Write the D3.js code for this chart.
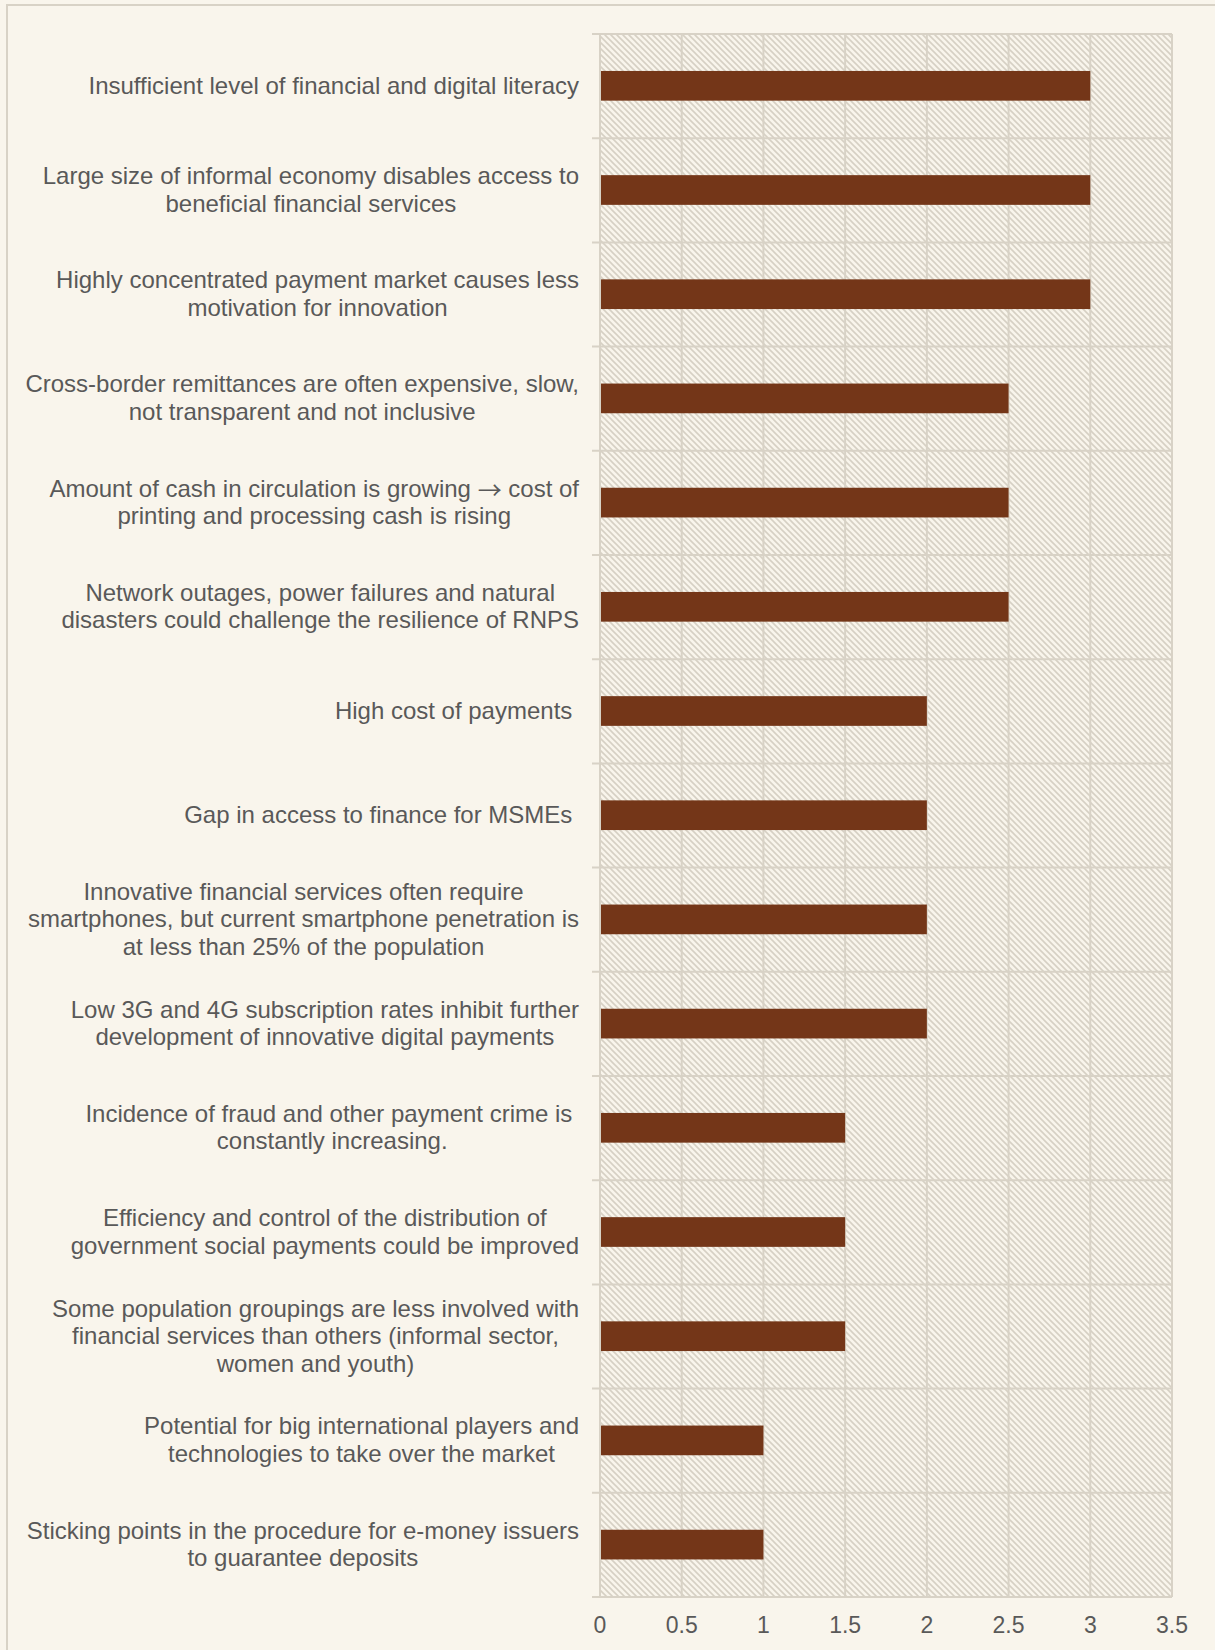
<!DOCTYPE html>
<html>
<head>
<meta charset="utf-8">
<script src="https://cdn.jsdelivr.net/npm/d3@7/dist/d3.min.js"></script>
<style>
  html, body { margin: 0; padding: 0; background: #f9f5ec; }
  svg { display: block; }
</style>
</head>
<body>
<svg id="chart" width="1215" height="1650"></svg>
<script>
const categories = [
  "Insufficient level of financial and digital literacy",
  "Large size of informal economy disables access to\nbeneficial financial services",
  "Highly concentrated payment market causes less\nmotivation for innovation",
  "Cross-border remittances are often expensive, slow,\nnot transparent and not inclusive",
  "Amount of cash in circulation is growing \u2192 cost of\nprinting and processing cash is rising",
  "Network outages, power failures and natural\ndisasters could challenge the resilience of RNPS",
  "High cost of payments ",
  "Gap in access to finance for MSMEs ",
  "Innovative financial services often require\nsmartphones, but current smartphone penetration is\nat less than 25% of the population",
  "Low 3G and 4G subscription rates inhibit further\ndevelopment of innovative digital payments",
  "Incidence of fraud and other payment crime is \nconstantly increasing.",
  "Efficiency and control of the distribution of\ngovernment social payments could be improved",
  "Some population groupings are less involved with\nfinancial services than others (informal sector,\nwomen and youth)",
  "Potential for big international players and\ntechnologies to take over the market",
  "Sticking points in the procedure for e-money issuers\nto guarantee deposits"
];
const values = [3, 3, 3, 2.5, 2.5, 2.5, 2, 2, 2, 2, 1.5, 1.5, 1.5, 1, 1];
const xTicks = [0, 0.5, 1, 1.5, 2, 2.5, 3, 3.5];
const xTickLabels = ["0", "0.5", "1", "1.5", "2", "2.5", "3", "3.5"];

const svg = d3.select("#chart");
const W = 1215, H = 1650;
const plot = { left: 600, right: 1172, top: 34, bottom: 1597 };
const gridColor = "#d8d2c6";
const textColor = "#595959";
const barColor = "#743618";
const fontFamily = "'Liberation Sans', Arial, sans-serif";
const arrowFont = "'Noto Sans CJK SC', 'DejaVu Sans', sans-serif";

svg.append("rect").attr("width", W).attr("height", H).attr("fill", "#f9f5ec");
// outer chart border
svg.append("rect").attr("x", 7).attr("y", 5).attr("width", 1400).attr("height", 1800)
  .attr("fill", "none").attr("stroke", gridColor).attr("stroke-width", 2);

// hatch pattern
const defs = svg.append("defs");
const pat = defs.append("pattern").attr("id", "hatch").attr("patternUnits", "userSpaceOnUse")
  .attr("width", 6).attr("height", 6);
pat.append("rect").attr("width", 6).attr("height", 6).attr("fill", "#f9f5ec");
pat.append("path").attr("d", "M0,0 L6,6 M-3,3 L3,9 M3,-3 L9,3")
  .attr("stroke", "#d6d0c4").attr("stroke-width", 1.6);

const x = d3.scaleLinear().domain([0, 3.5]).range([plot.left, plot.right]);
const y = d3.scaleBand().domain(d3.range(categories.length)).range([plot.top, plot.bottom]).paddingInner(0).paddingOuter(0);

svg.append("rect").attr("x", plot.left).attr("y", plot.top)
  .attr("width", plot.right - plot.left).attr("height", plot.bottom - plot.top)
  .attr("fill", "url(#hatch)");

// vertical gridlines
svg.append("g").selectAll("line").data(xTicks).join("line")
  .attr("x1", d => x(d)).attr("x2", d => x(d))
  .attr("y1", plot.top).attr("y2", plot.bottom)
  .attr("stroke", gridColor).attr("stroke-width", 2);

// horizontal category boundaries (with tick marks extending left)
const bounds = d3.range(categories.length + 1).map(i => plot.top + i * y.step());
svg.append("g").selectAll("line").data(bounds).join("line")
  .attr("x1", plot.left - 8).attr("x2", plot.right)
  .attr("y1", d => d).attr("y2", d => d)
  .attr("stroke", gridColor).attr("stroke-width", 2);

// bars
const barH = y.bandwidth() * 0.285;
svg.append("g").selectAll("rect").data(values).join("rect")
  .attr("x", x(0) + 1)
  .attr("y", (d, i) => y(i) + y.bandwidth() / 2 - barH / 2 - 0.3)
  .attr("width", d => x(d) - x(0) - 1)
  .attr("height", barH)
  .attr("fill", barColor);

// x tick labels
svg.append("g").selectAll("text").data(xTicks).join("text")
  .attr("x", d => x(d)).attr("y", 1625)
  .attr("text-anchor", "middle").attr("dominant-baseline", "central")
  .attr("font-family", fontFamily).attr("font-size", 23).attr("fill", textColor)
  .text((d, i) => xTickLabels[i]);

// category labels
const canvas = document.createElement("canvas");
const ctx = canvas.getContext("2d");
const mainFont = "24px 'Liberation Sans', Arial, sans-serif";
const arrFont = "24px 'Noto Sans CJK SC', 'DejaVu Sans', sans-serif";
function segs(line) {
  const parts = line.split("\u2192");
  const out = [];
  parts.forEach((p, k) => {
    if (k > 0) out.push({ t: "\u2192", arrow: true });
    if (p.length) out.push({ t: p, arrow: false });
  });
  return out;
}
function measure(line) {
  return d3.sum(segs(line), s => { ctx.font = s.arrow ? arrFont : mainFont; return ctx.measureText(s.t).width; });
}
const labelRight = 579;
const lh = 27.5;
categories.forEach((c, i) => {
  const lines = c.split("\n");
  const widths = lines.map(l => measure(l));
  const maxW = d3.max(widths);
  const cx = labelRight - maxW / 2;
  const cy = y(i) + y.bandwidth() / 2 - 1.5;
  lines.forEach((l, j) => {
    const t = svg.append("text")
      .attr("x", cx - widths[j] / 2)
      .attr("y", cy + (j - (lines.length - 1) / 2) * lh)
      .attr("dominant-baseline", "central")
      .attr("font-family", fontFamily).attr("font-size", 24).attr("fill", textColor)
      .attr("xml:space", "preserve").style("white-space", "pre");
    segs(l.trimEnd()).forEach(s => {
      const ts = t.append("tspan").text(s.t);
      if (s.arrow) ts.attr("font-family", arrowFont);
    });
  });
});
</script>
</body>
</html>
